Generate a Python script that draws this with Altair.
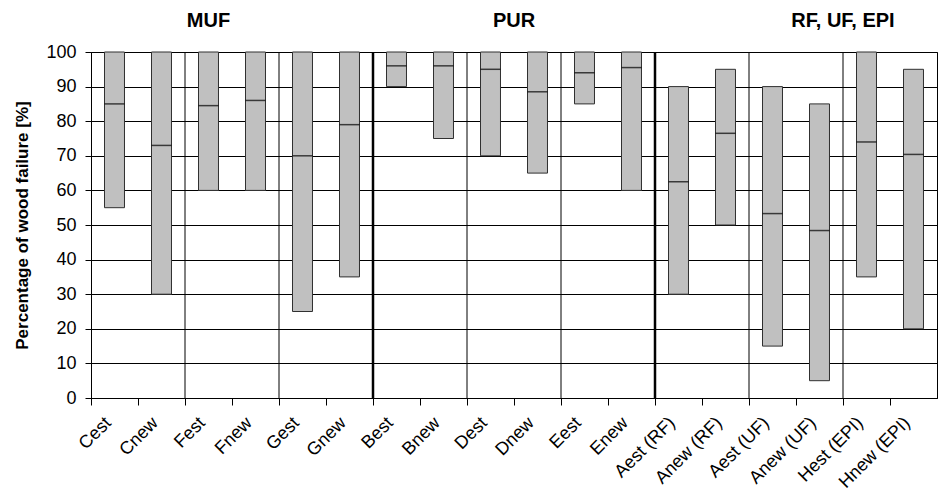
import altair as alt
import pandas as pd

# ---- data ----
categories = ["Cest", "Cnew", "Fest", "Fnew", "Gest", "Gnew",
              "Best", "Bnew", "Dest", "Dnew", "Eest", "Enew",
              "Aest (RF)", "Anew (RF)", "Aest (UF)", "Anew (UF)", "Hest (EPI)", "Hnew (EPI)"]
low_values = [55, 30, 60, 60, 25, 35, 90, 75, 70, 65, 85, 60, 30, 50, 15, 5, 35, 20]
high_values = [100, 100, 100, 100, 100, 100, 100, 100, 100, 100, 100, 100, 90, 95, 90, 85, 100, 95]
median_values = [85, 73, 84.5, 86, 70, 79, 96, 96, 95, 88.5, 94, 95.5, 62.5, 76.5, 53.3, 48.4, 74, 70.4]
group_names = ["MUF", "PUR", "RF, UF, EPI"]
group_title_anchor = ["Fest", "Dnew", "Hest (EPI)"]
group_size = 6
y_ticks = list(range(0, 101, 10))

FONT = "Liberation Sans"

df = pd.DataFrame({"cat": categories, "low": low_values, "high": high_values, "median": median_values})

# vertical gridlines every second category, heavier at group boundaries
grid_df = pd.DataFrame({
    "cat": [categories[i] for i in range(2, len(categories), 2)],
    "w": [2.5 if i % group_size == 0 else 1 for i in range(2, len(categories), 2)],
})

xscale = alt.Scale(domain=categories, paddingInner=0, paddingOuter=0)
yscale = alt.Scale(domain=[0, 100], nice=False)

x_axis = alt.Axis(
    title=None, labelAngle=-45, labelAlign="right", labelBaseline="middle",
    labelFont=FONT, labelFontSize=18, labelColor="black", labelPadding=15, labelOffset=-6,
    tickSize=7, tickColor="black", domainColor="black", bandPosition=0, grid=False,
    labelOverlap=False,
)
y_axis = alt.Axis(
    title="Percentage of wood failure [%]", titleFont=FONT, titleFontSize=17, titleFontWeight="bold",
    titleColor="black", titleX=-60, titleY=173,
    values=y_ticks, labelFont=FONT, labelFontSize=18, labelColor="black", labelPadding=9,
    labelOverlap=False, tickCount=11,
    tickSize=6, tickColor="black", domainColor="black",
    grid=True, gridColor="black", gridWidth=1,
)

base = alt.Chart(df)

vrules = alt.Chart(grid_df).mark_rule(color="black").encode(
    x=alt.X("cat:N", scale=xscale, bandPosition=0, axis=x_axis, sort=categories),
    strokeWidth=alt.StrokeWidth("w:Q", scale=None, legend=None),
)

bars = base.mark_bar(width=alt.RelativeBandSize(0.425), color="#C0C0C0", stroke="#303030", strokeWidth=1).encode(
    x=alt.X("cat:N", scale=xscale, axis=x_axis, sort=categories),
    y=alt.Y("low:Q", scale=yscale, axis=y_axis),
    y2="high:Q",
)

medians = base.mark_tick(color="black", thickness=1.5, size=20).encode(
    x=alt.X("cat:N", scale=xscale, axis=x_axis, sort=categories),
    y=alt.Y("median:Q", scale=yscale, axis=y_axis),
)

titles_df = pd.DataFrame({"name": group_names, "anchor": group_title_anchor})
title_layers = []
for i, (name, anc) in enumerate(zip(group_names, group_title_anchor)):
    title_layers.append(
        alt.Chart(titles_df.iloc[[i]]).mark_text(
            font=FONT, fontSize=20, fontWeight="bold", color="black", baseline="middle", align="center"
        ).encode(
            x=alt.X("anchor:N", scale=xscale, axis=x_axis, sort=categories, bandPosition=0.5 if i == 0 else 0),
            y=alt.value(-31),
            text="name:N",
        )
    )

chart = alt.layer(vrules, bars, medians, *title_layers).properties(
    width=846, height=346,
    padding={"left": 91, "top": 52, "right": 2, "bottom": 96},
    autosize=alt.AutoSizeParams(type="none"),
    background="white",
).configure_view(stroke="black", strokeWidth=1)

chart.save("out.html", embed_options={"renderer": "svg", "actions": False})
